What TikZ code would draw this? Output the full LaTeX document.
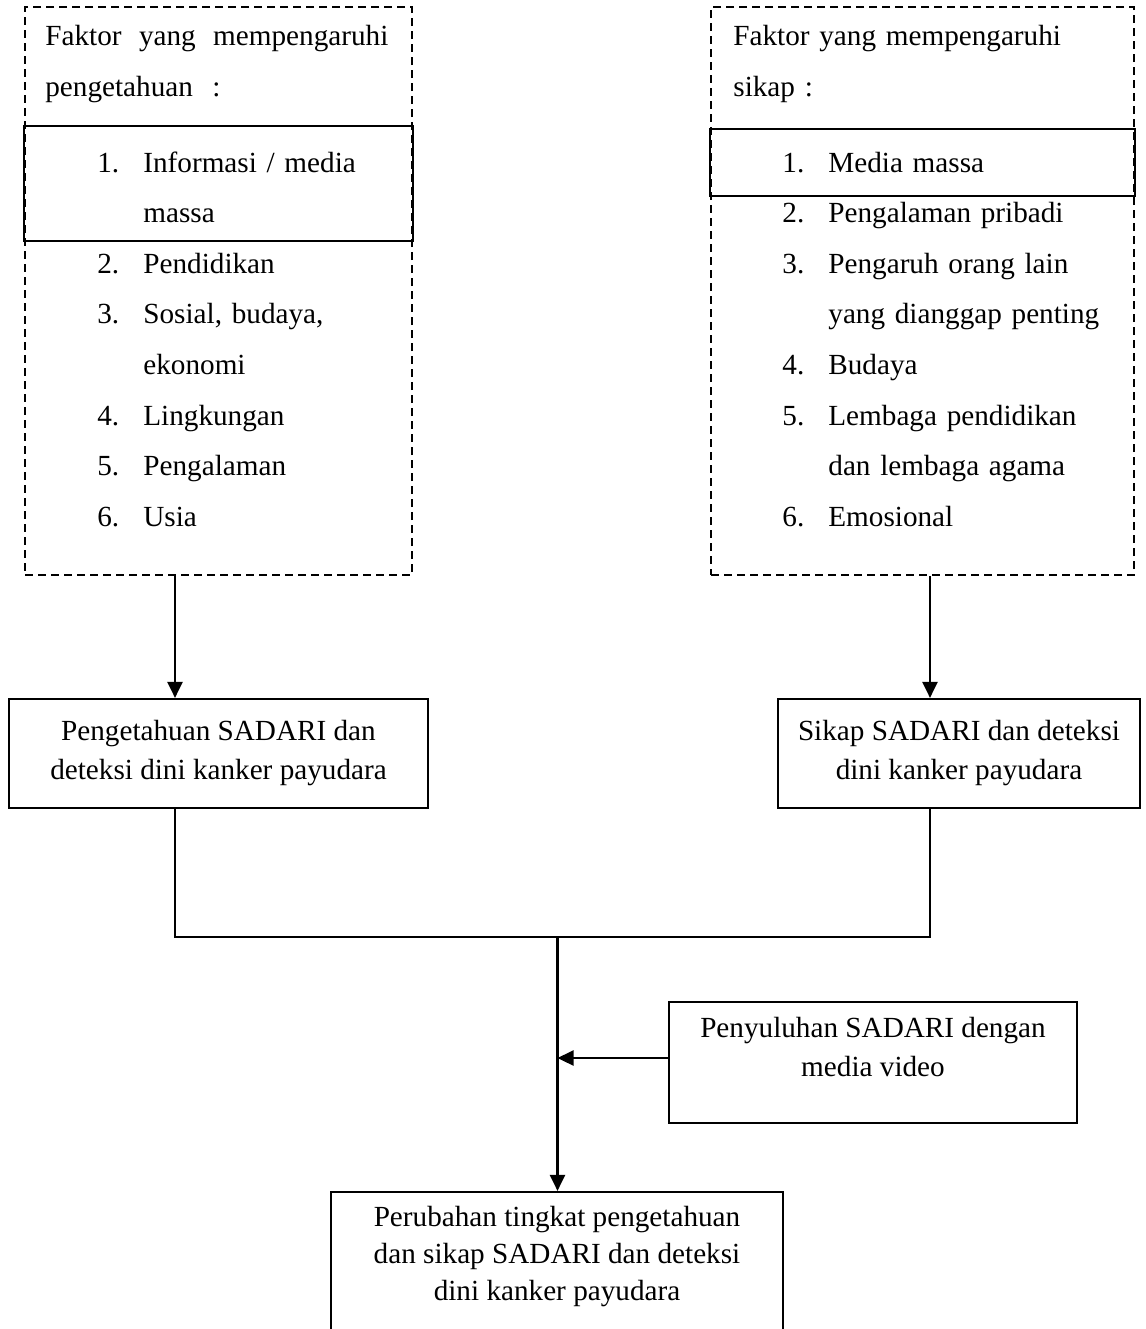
\documentclass[tikz,border=0pt]{standalone}
\usepackage{fontspec}
\setmainfont{Liberation Serif}
\usetikzlibrary{positioning,arrows.meta}

\newcommand{\nomorA}[1]{\hspace*{26pt}\makebox[23pt][l]{#1}}
\newcommand{\lanjutA}{\hspace*{49pt}}
\newcommand{\nomorB}[1]{\hspace*{24.5pt}\makebox[23pt][l]{#1}}
\newcommand{\lanjutB}{\hspace*{47.5pt}}

\begin{document}
\begin{tikzpicture}[x=0.5pt,y=-0.5pt,
    garis/.style={line width=1.1pt},
    kotak/.style={draw, line width=1.1pt, inner sep=0pt, align=center, font=\fontsize{14.6}{19.5}\selectfont},
    faktor/.style={draw, line width=1pt, dash pattern=on 4pt off 2.5pt, inner sep=0pt, minimum height=284pt},
    daftar/.style={anchor=north west, inner sep=0pt, align=left, font=\fontsize{14.6}{25.3}\selectfont},
    teks/.style={inner sep=0pt, align=center, font=\fontsize{14.6}{19.5}\selectfont},
    panah/.style={line width=1.1pt, -{Triangle[length=8pt,width=7.5pt]}}]
    \useasboundingbox (0,0) rectangle (1146,1329);
    \clip (0,0) rectangle (1146,1329);

    \node[faktor, minimum width=193.5pt] (faktorA) at (218.5,291) {};
    \node[faktor, minimum width=211.5pt] (faktorB) at (922.5,291) {};
    \coordinate (pitaA1) at (0,126);
    \coordinate (pitaA2) at (0,241);
    \coordinate (pitaB1) at (0,129);
    \coordinate (pitaB2) at (0,196);
    \draw[garis] (faktorA.west |- pitaA1) rectangle (faktorA.east |- pitaA2);
    \draw[garis] (faktorB.west |- pitaB1) rectangle (faktorB.east |- pitaB2);

    \node[daftar, text width=172pt] (isiA) at (45,9.6) {\strut\makebox[171.5pt][l]{Faktor\hfill yang\hfill mempengaruhi}\\
      pengetahuan\ \ :\\[12.7pt]
      \nomorA{1.}Informasi / media\\
      \lanjutA massa\\
      \nomorA{2.}Pendidikan\\
      \nomorA{3.}Sosial, budaya,\\
      \lanjutA ekonomi\\
      \nomorA{4.}Lingkungan\\
      \nomorA{5.}Pengalaman\\
      \nomorA{6.}Usia};
    \node[daftar, text width=195pt] (isiB) at (733,9.6) {\strut Faktor yang mempengaruhi\\
      sikap :\\[12.7pt]
      \nomorB{1.}Media massa\\
      \nomorB{2.}Pengalaman pribadi\\
      \nomorB{3.}Pengaruh orang lain\\
      \lanjutB yang dianggap penting\\
      \nomorB{4.}Budaya\\
      \nomorB{5.}Lembaga pendidikan\\
      \lanjutB dan lembaga agama\\
      \nomorB{6.}Emosional};

    \node[kotak, minimum width=209.5pt, minimum height=54.5pt] (pengetahuan) at (218.5,753.5) {Pengetahuan SADARI dan\\deteksi dini kanker payudara};
    \node[kotak, minimum width=181pt, minimum height=54.5pt] (sikap) at (959,753.5) {Sikap SADARI dan deteksi\\dini kanker payudara};
    \node[kotak, minimum width=204pt, minimum height=60.5pt] (penyuluhan) at (873,1062.5) {};
    \node[teks, below=8pt of penyuluhan.north] (teksPenyuluhan) {Penyuluhan SADARI dengan\\media video};
    \node[kotak, minimum width=226pt, minimum height=84pt] (perubahan) at (557,1276) {};
    \node[teks, font=\fontsize{14.6}{18.5}\selectfont, below=7.5pt of perubahan.north] (teksPerubahan) {Perubahan tingkat pengetahuan\\dan sikap SADARI dan deteksi\\dini kanker payudara};

    \coordinate (kiri) at (175,936.7);
    \coordinate (kanan) at (930,936.7);
    \coordinate (tengah) at (557.5,936.7);
    \coordinate (masuk) at ([yshift=2.25pt]penyuluhan.west);
    \draw[panah] (faktorA.south -| kiri) -- (pengetahuan.north -| kiri);
    \draw[panah] (faktorB.south -| kanan) -- (sikap.north -| kanan);
    \draw[garis] (pengetahuan.south -| kiri) -- (kiri) -- (kanan) -- (sikap.south -| kanan);
    \draw[panah] (tengah) -- (perubahan.north -| tengah);
    \draw[panah] (masuk) -- (masuk -| tengah);
\end{tikzpicture}
\end{document}
